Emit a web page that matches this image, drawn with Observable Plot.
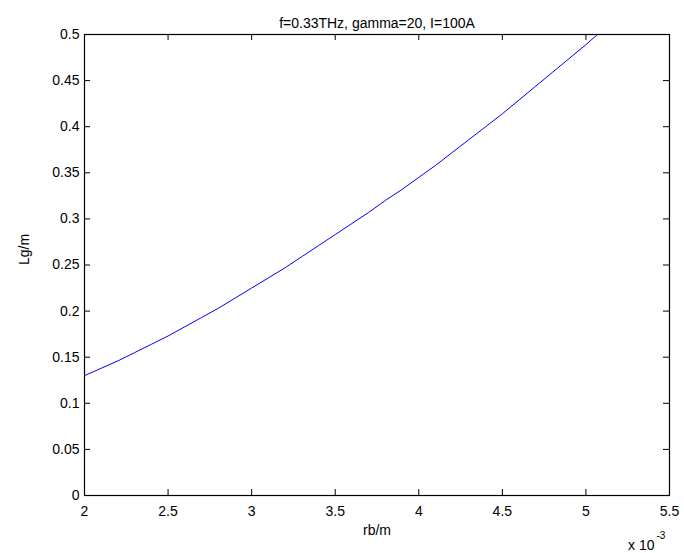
<!DOCTYPE html>
<html>
<head>
<meta charset="utf-8">
<script src="https://cdn.jsdelivr.net/npm/d3@7"></script>
<script src="https://cdn.jsdelivr.net/npm/@observablehq/plot@0.6"></script>
<style>
  html, body { margin: 0; padding: 0; background: #ffffff; }
</style>
</head>
<body>
<div id="chart"></div>
<script>
// rb in units of 1e-3 m
const rb = [2.0, 2.1, 2.2, 2.3, 2.4, 2.5, 2.6, 2.7, 2.8, 2.9, 3.0, 3.1, 3.2, 3.3, 3.4, 3.5, 3.6, 3.7, 3.8, 3.9, 4.0, 4.1, 4.2, 4.3, 4.4, 4.5, 4.6, 4.7, 4.8, 4.9, 5.0, 5.1];
const Lg = [0.130, 0.138, 0.146, 0.155, 0.164, 0.173, 0.183, 0.193, 0.203, 0.214, 0.225, 0.236, 0.247, 0.259, 0.271, 0.283, 0.295, 0.307, 0.320, 0.332, 0.345, 0.358, 0.372, 0.386, 0.400, 0.414, 0.429, 0.444, 0.459, 0.474, 0.489, 0.505];
const xTicks = [2, 2.5, 3, 3.5, 4, 4.5, 5, 5.5];
const yTicks = [0, 0.05, 0.1, 0.15, 0.2, 0.25, 0.3, 0.35, 0.4, 0.45, 0.5];
const titleText = "f=0.33THz, gamma=20, I=100A";
const xLabel = "rb/m";
const yLabel = "Lg/m";
const expBase = "x 10";
const expPow = "-3";

const data = rb.map((r, i) => ({rb: r, Lg: Lg[i]}));
const fmt = d => String(+d.toFixed(2));
const FONT = "'Liberation Sans', Arial, sans-serif";

const W = 684, H = 553, ML = 84, MR = 15, MT = 34, MB = 58;
const plotW = W - ML - MR, plotH = H - MT - MB;
const TL = 6; // tick length, px

const chart = Plot.plot({
  width: W,
  height: H,
  marginLeft: ML,
  marginRight: MR,
  marginTop: MT,
  marginBottom: MB,
  style: {fontFamily: FONT, fontSize: "14px", background: "#ffffff", color: "#000000"},
  x: {domain: [2, 5.5]},
  y: {domain: [0, 0.5]},
  marks: [
    Plot.line(data, {x: "rb", y: "Lg", stroke: "#0000ff", strokeWidth: 1, clip: true}),
    // inward ticks on all four sides
    Plot.ruleX(xTicks, {x: d => d, insetTop: plotH - TL, stroke: "#000000", strokeWidth: 1}),
    Plot.ruleX(xTicks, {x: d => d, insetBottom: plotH - TL, stroke: "#000000", strokeWidth: 1}),
    Plot.ruleY(yTicks, {y: d => d, insetRight: plotW - TL, stroke: "#000000", strokeWidth: 1}),
    Plot.ruleY(yTicks, {y: d => d, insetLeft: plotW - TL, stroke: "#000000", strokeWidth: 1}),
    Plot.frame({stroke: "#000000", strokeWidth: 1.2}),
    Plot.axisX({anchor: "bottom", ticks: xTicks, tickSize: 0, tickPadding: 11, tickFormat: fmt, label: null, fontSize: 14, fill: "#000000"}),
    Plot.axisY({anchor: "left", ticks: yTicks, tickSize: 0, tickPadding: 5, tickFormat: fmt, label: null, fontSize: 14, fill: "#000000"}),
    Plot.text([titleText], {frameAnchor: "top", dy: -7, lineAnchor: "bottom", fontSize: 14, fill: "#000000"}),
    Plot.text([xLabel], {frameAnchor: "bottom", dy: 39, lineAnchor: "bottom", fontSize: 14, fill: "#000000"}),
    Plot.text([yLabel], {frameAnchor: "left", dx: -60, rotate: -90, lineAnchor: "middle", fontSize: 14, fill: "#000000"}),
    Plot.text([expBase], {frameAnchor: "bottom-right", dx: -15, dy: 54, textAnchor: "end", lineAnchor: "bottom", fontSize: 14, fill: "#000000"}),
    Plot.text([expPow], {frameAnchor: "bottom-right", dx: -13, dy: 43, textAnchor: "start", lineAnchor: "bottom", fontSize: 10, fill: "#000000"})
  ]
});
document.getElementById("chart").appendChild(chart);
</script>
</body>
</html>
